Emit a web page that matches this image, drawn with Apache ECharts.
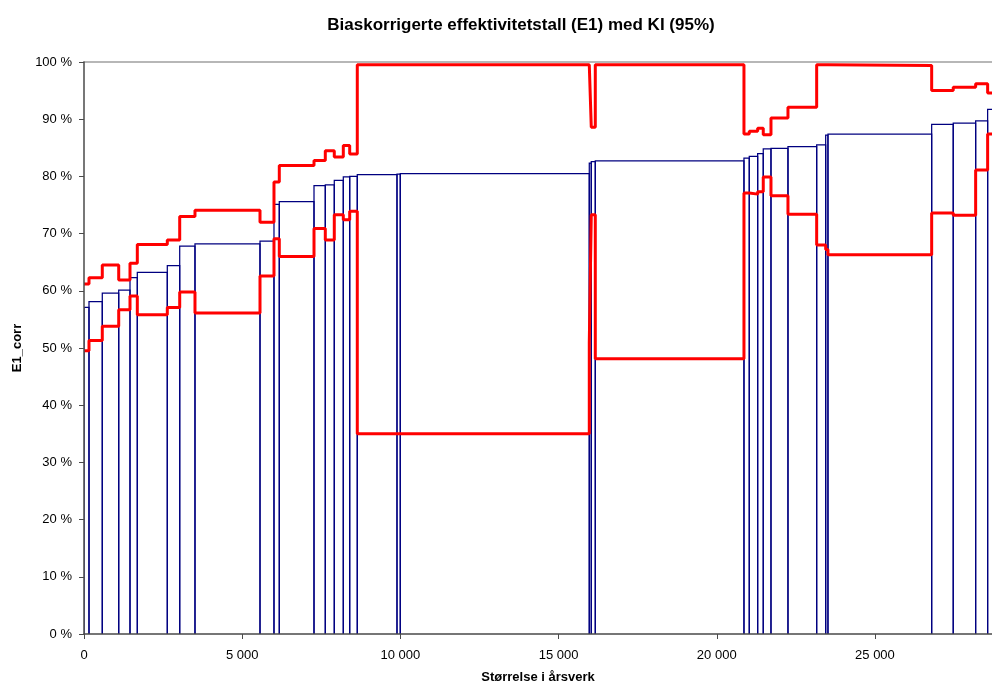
<!DOCTYPE html>
<html>
<head>
<meta charset="utf-8">
<script src="https://cdn.jsdelivr.net/npm/echarts@6/dist/echarts.min.js"></script>
<style>
  html, body { margin: 0; padding: 0; background: #ffffff; }
  #chart { width: 992px; height: 686px; }
</style>
</head>
<body>
<div id="chart"></div>
<script>
// Size of each unit (årsverk), in order of increasing efficiency
const sizes = [158, 420, 519, 357, 231, 948, 392, 483, 2055, 442,
               168, 1097, 357, 284, 285, 202, 240, 1255, 104, 5974,
               63, 127, 4699, 168, 265, 177, 244, 537, 907, 285,
               72, 3278, 682, 708, 379, 340];

// Bias-corrected efficiency (E1_corr), percent
const effValues = [57.1, 58.1, 59.6, 60.1, 62.3, 63.2, 64.4, 67.8, 68.2, 68.7,
                   75.1, 75.6, 78.4, 78.5, 79.3, 79.9, 80.0, 80.3, 80.4, 80.5,
                   82.3, 82.6, 82.7, 83.2, 83.5, 84.0, 84.8, 84.9, 85.2, 85.5,
                   87.2, 87.4, 89.1, 89.3, 89.7, 91.7];

// 95 % confidence interval, upper bound
const upperCI = [61.2, 62.3, 64.5, 61.9, 64.8, 68.1, 68.9, 73.0, 74.1, 72.0,
                 79.0, 81.9, 82.8, 84.5, 83.4, 85.4, 83.9, 99.5, 99.5, 99.5,
                 99.5, 88.6, 99.5, 87.4, 87.9, 88.4, 87.3, 90.2, 92.1, 99.5,
                 99.5, 99.4, 95.0, 95.6, 96.2, 94.6];

// 95 % confidence interval, lower bound
const lowerCI = [49.5, 51.3, 53.8, 56.7, 59.1, 55.8, 57.1, 59.8, 56.1, 62.6,
                 69.1, 66.0, 70.9, 68.9, 73.3, 72.4, 73.9, 35.0, 35.0, 35.0,
                 50.9, 73.3, 48.1, 77.1, 76.9, 77.3, 79.9, 76.6, 73.4, 68.0,
                 67.2, 66.3, 73.6, 73.2, 81.1, 87.4];

// Axis ranges and tick steps
const xMax = 28700;
const xTickStep = 5000;
const yMax = 100;
const yTickStep = 10;

// Cumulative start position of each unit along the size axis
const starts = [];
let acc = 0;
sizes.forEach(s => { starts.push(acc); acc += s; });
const total = acc;

const barData = sizes.map((s, i) => [starts[i], starts[i] + s, effValues[i]]);

function stepPoints(vals) {
  const pts = vals.map((v, i) => [starts[i], v]);
  pts.push([total, vals[vals.length - 1]]);
  return pts;
}

function fmtThousands(v) {
  return String(Math.round(v)).replace(/\B(?=(\d{3})+(?!\d))/g, ' ');
}

const FONT = 'Liberation Sans, Arial, sans-serif';

const chart = echarts.init(document.getElementById('chart'), null, { renderer: 'canvas' });

chart.setOption({
  animation: false,
  backgroundColor: '#ffffff',
  textStyle: { fontFamily: FONT },
  title: {
    text: 'Biaskorrigerte effektivitetstall (E1) med KI (95%)',
    left: 516,
    top: 12,
    textAlign: 'center',
    textStyle: { fontFamily: FONT, fontSize: 17, fontWeight: 'bold', color: '#000' }
  },
  grid: { left: 84, right: 0, top: 62, bottom: 52, containLabel: false, outerBoundsMode: 'none' },
  xAxis: [{
    type: 'value',
    min: 0,
    max: xMax,
    interval: xTickStep,
    position: 'bottom',
    z: 5,
    name: 'Størrelse i årsverk',
    nameLocation: 'middle',
    nameGap: 37,
    nameTextStyle: { fontFamily: FONT, fontSize: 13, fontWeight: 'bold', color: '#000' },
    axisLine: { show: true, lineStyle: { color: '#4a4a4a', width: 1.5 } },
    axisTick: { show: true, inside: false, length: 5, lineStyle: { color: '#4a4a4a' } },
    axisLabel: {
      fontFamily: FONT, fontSize: 13, color: '#000', margin: 15,
      showMaxLabel: false,
      formatter: v => fmtThousands(v)
    },
    splitLine: { show: false }
  }, {
    type: 'value',
    min: 0,
    max: xMax,
    position: 'top',
    axisLine: { show: true, lineStyle: { color: '#a0a0a0', width: 1.5 } },
    axisTick: { show: false },
    axisLabel: { show: false },
    splitLine: { show: false }
  }],
  yAxis: {
    type: 'value',
    min: 0,
    max: yMax,
    interval: yTickStep,
    z: 5,
    name: 'E1_corr',
    nameLocation: 'middle',
    nameGap: 60,
    nameTextStyle: { fontFamily: FONT, fontSize: 13, fontWeight: 'bold', color: '#000' },
    axisLine: { show: true, lineStyle: { color: '#4a4a4a', width: 1.5 } },
    axisTick: { show: true, inside: false, length: 5, lineStyle: { color: '#4a4a4a' } },
    axisLabel: {
      fontFamily: FONT, fontSize: 13, color: '#000', margin: 12,
      formatter: v => v + ' %'
    },
    splitLine: { show: false }
  },
  series: [
    {
      name: 'E1_corr',
      type: 'custom',
      clip: true,
      z: 2,
      data: barData,
      encode: { x: [0, 1], y: 2 },
      renderItem: function (params, api) {
        const tl = api.coord([api.value(0), api.value(2)]);
        const br = api.coord([api.value(1), 0]);
        return {
          type: 'polyline',
          shape: { points: [[tl[0], br[1]], [tl[0], tl[1]], [br[0], tl[1]], [br[0], br[1]]] },
          style: { fill: null, stroke: '#000080', lineWidth: 1.25 }
        };
      }
    },
    {
      name: 'Øvre KI',
      type: 'line',
      step: 'end',
      clip: true,
      z: 3,
      showSymbol: false,
      data: stepPoints(upperCI),
      lineStyle: { color: '#ff0000', width: 3 }
    },
    {
      name: 'Nedre KI',
      type: 'line',
      step: 'end',
      clip: true,
      z: 3,
      showSymbol: false,
      data: stepPoints(lowerCI),
      lineStyle: { color: '#ff0000', width: 3 }
    }
  ]
});
</script>
</body>
</html>
